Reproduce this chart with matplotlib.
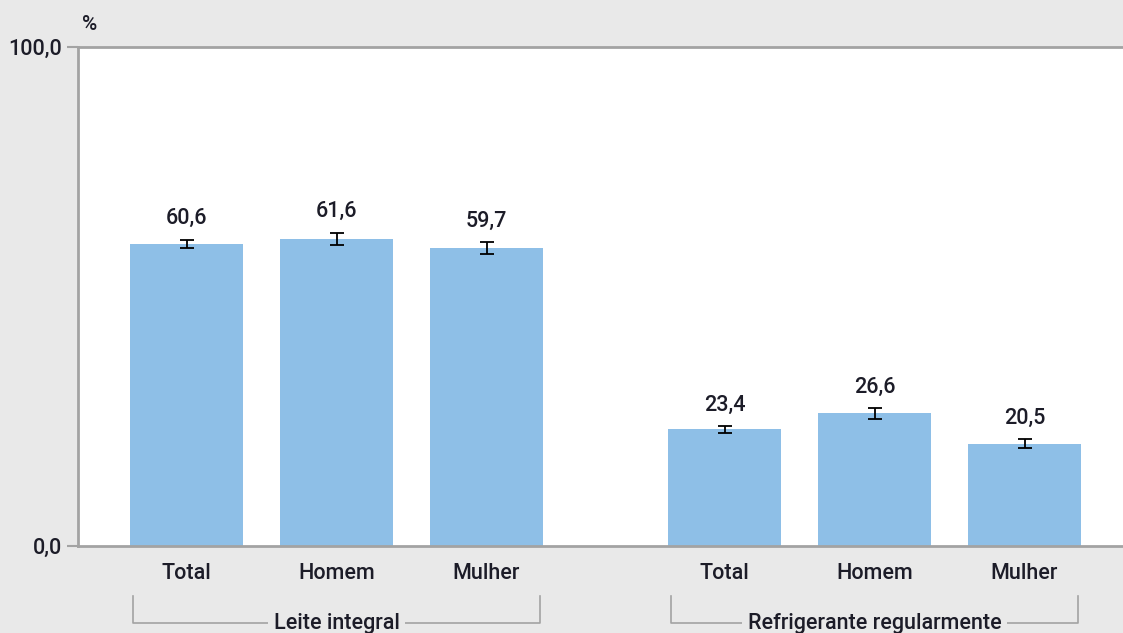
import matplotlib
matplotlib.use("Agg")
import matplotlib.pyplot as plt
import numpy as np

categories = ["Total", "Homem", "Mulher", "Total", "Homem", "Mulher"]
values = [60.6, 61.6, 59.7, 23.4, 26.6, 20.5]
errors = [0.8, 1.2, 1.2, 0.7, 1.1, 0.9]
groups = ["Leite integral", "Refrigerante regularmente"]
value_labels = ["60,6", "61,6", "59,7", "23,4", "26,6", "20,5"]
ytick_values = [0, 100]
ytick_labels = ["0,0", "100,0"]

BG = "#e9e9e9"
BAR = "#8ebfe7"
GRAY = "#a3a3a3"
TXT = "#1c1c28"
FONT = "Roboto"
FW = "medium"

plt.rcParams["font.family"] = [FONT, "DejaVu Sans"]

fig = plt.figure(figsize=(11.23, 6.33), dpi=100, facecolor=BG)
ax = fig.add_axes([78/1123, 87/633, 1 - 78/1123, 499/633])
ax.set_facecolor("white")

gap = 1.587
x = np.array([0, 1, 2, 2 + gap, 3 + gap, 4 + gap])
width = 0.753

ax.bar(x, values, width=width, color=BAR, edgecolor="none", zorder=2)
ax.errorbar(x, values, yerr=errors, fmt="none", ecolor="black",
            elinewidth=1.3, capsize=5, capthick=1.3, zorder=3)

for xi, v, e, lab in zip(x, values, errors, value_labels):
    ax.annotate(lab, (xi, v + e), xytext=(0, 11), textcoords="offset points",
                ha="center", va="baseline", fontsize=15.5, color=TXT,
                fontweight=FW)

ax.set_xlim((78 - 186.5) / 150, (1123 - 186.5) / 150)
ax.set_ylim(0, 100)
ax.set_yticks(ytick_values)
ax.set_yticklabels(ytick_labels, fontsize=15.5, color=TXT, fontweight=FW)
ax.tick_params(axis="y", length=8, width=1.5, color=GRAY, pad=3.5)
ax.set_xticks(x)
ax.set_xticklabels(categories, fontsize=15.5, color=TXT, fontweight=FW)
ax.tick_params(axis="x", length=0, pad=12)

for side in ["left", "top", "bottom"]:
    ax.spines[side].set_color(GRAY)
    ax.spines[side].set_linewidth(2)
ax.spines["right"].set_visible(False)

# group brackets
trans = ax.get_xaxis_transform()
y_top = (546 - 596) / 499
y_bot = (546 - 623) / 499
half = 0.357
for gi, name in enumerate(groups):
    xs = x[gi * 3:(gi + 1) * 3]
    x0, x1 = xs[0] - half, xs[-1] + half
    ax.plot([x0, x0, x1, x1], [y_top, y_bot, y_bot, y_top], color=GRAY,
            lw=1.2, transform=trans, clip_on=False)
    ax.text((x0 + x1) / 2, y_bot, name, transform=trans, ha="center",
            va="center", fontsize=15.5, color=TXT, fontweight=FW,
            bbox=dict(facecolor=BG, edgecolor="none", pad=4))

fig.text(90 / 1123, 1 - 25 / 633, "%", ha="center", va="center",
         fontsize=15, color=TXT, fontweight=FW)

fig.savefig("out.png", dpi=100, facecolor=BG)
